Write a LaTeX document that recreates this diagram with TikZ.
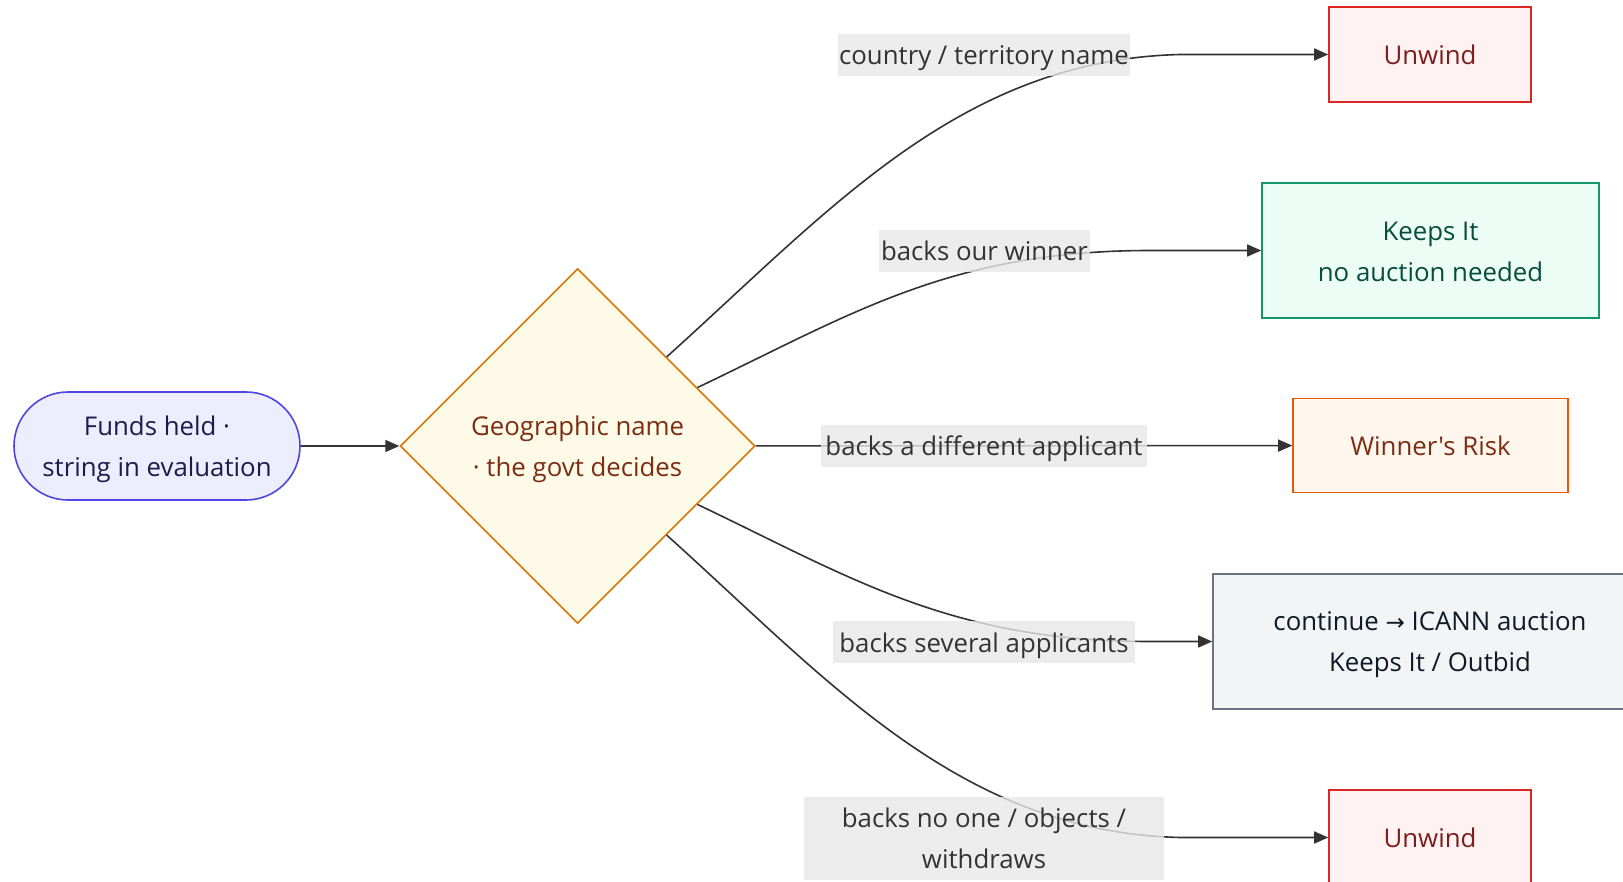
\documentclass[tikz,border=0pt]{standalone}
\usepackage{fontspec}
\newfontfamily\mainsans{Open Sans}
\newfontfamily\symfont{DejaVu Sans}
\usetikzlibrary{shapes.geometric,arrows.meta}
\definecolor{stadfill}{HTML}{ECEEFE}
\definecolor{stadline}{HTML}{4F46E5}
\definecolor{stadtext}{HTML}{1E1B4B}
\definecolor{diafill}{HTML}{FEFAE8}
\definecolor{dialine}{HTML}{D97706}
\definecolor{diatext}{HTML}{7C2D12}
\definecolor{redfill}{HTML}{FEF2F2}
\definecolor{redline}{HTML}{DC2626}
\definecolor{redtext}{HTML}{7F1D1D}
\definecolor{grnfill}{HTML}{ECFDF5}
\definecolor{grnline}{HTML}{13966C}
\definecolor{grntext}{HTML}{064E3B}
\definecolor{orgfill}{HTML}{FFF7ED}
\definecolor{orgline}{HTML}{EA580C}
\definecolor{orgtext}{HTML}{7C2D12}
\definecolor{gryfill}{HTML}{F3F4F6}
\definecolor{gryline}{HTML}{6B7280}
\definecolor{grytext}{HTML}{111827}
\definecolor{edgecol}{HTML}{333333}
\definecolor{lblfill}{HTML}{E8E8E8}
\begin{document}
\begin{tikzpicture}[x=1pt,y=-1pt,
  font=\mainsans\fontsize{25.8}{41}\selectfont,
  txt/.style={align=center, inner sep=0pt, yshift=-3pt},
  onetxt/.style={inner sep=0pt, text height=19pt, text depth=6pt, yshift=-3.5pt},
  box/.style={draw, line width=1.6pt, rectangle, inner sep=0pt},
  redbox/.style={box, fill=redfill, draw=redline, minimum width=202pt, minimum height=95pt},
  edge/.style={draw=edgecol, line width=1.6pt, -{Triangle[length=14pt,width=12pt]}},
  elabel/.style={fill=lblfill, fill opacity=0.8, inner sep=0pt, minimum height=42pt}]
\useasboundingbox (0,0) rectangle (1623,882);
\fill[white] (0,0) rectangle (1623,882);

\node[box, fill=stadfill, draw=stadline, rounded corners=54pt, minimum width=286pt, minimum height=108pt,
  label={[txt, text=stadtext]center:Funds held ·\\string in evaluation}] (start) at (157,446) {};
\node[diamond, aspect=1, draw=dialine, fill=diafill, line width=1.6pt, minimum size=355pt, inner sep=0pt,
  label={[txt, text=diatext]center:Geographic name\\· the govt decides}] (diam) at (577.6,446) {};

\node[redbox, label={[onetxt, text=redtext]center:Unwind}] (u1) at (1430,54.5) {};
\node[box, fill=grnfill, draw=grnline, minimum width=337pt, minimum height=135pt,
  label={[txt, yshift=1.5pt, text=grntext]center:Keeps It\\no auction needed}] (keep) at (1430.5,250.5) {};
\node[box, fill=orgfill, draw=orgline, minimum width=275pt, minimum height=94pt,
  label={[onetxt, text=orgtext]center:Winner's Risk}] (risk) at (1430.5,445.5) {};
\node[box, fill=gryfill, draw=gryline, minimum width=434pt, minimum height=135pt,
  label={[txt, text=grytext]center:continue {\symfont\fontsize{23}{41}\selectfont →} ICANN auction\\Keeps It / Outbid}] (cont) at (1430,641.5) {};
\node[redbox, label={[onetxt, text=redtext]center:Unwind}] (u2) at (1430,837.5) {};

\coordinate (c1) at (1180,54.5);
\coordinate (c2) at (1150,250.5);
\coordinate (c4) at (1150,641.5);
\coordinate (c5) at (1180,837.5);

\draw[edge] (start) -- (diam);
\draw[edge] (diam.north east) .. controls (830,210) and (960,60) .. (c1) -- (u1);
\draw[edge] (diam.26) .. controls (850,315) and (950,250.5) .. (c2) -- (keep);
\draw[edge] (diam) -- (risk);
\draw[edge] (diam.-26) .. controls (850,577) and (950,641.5) .. (c4) -- (cont);
\draw[edge] (diam.south east) .. controls (830,682) and (960,832) .. (c5) -- (u2);

\node[elabel, minimum width=292pt, label={[onetxt, text=edgecol]center:country / territory name}] (l1) at (984,55) {};
\node[elabel, minimum width=211pt, label={[onetxt, text=edgecol]center:backs our winner}] (l2) at (984.5,251) {};
\node[elabel, minimum width=326pt, label={[onetxt, text=edgecol]center:backs a different applicant}] (l3) at (984,446) {};
\node[elabel, minimum width=302pt, label={[onetxt, text=edgecol]center:backs several applicants}] (l4) at (984,642) {};
\node[elabel, minimum width=360pt, minimum height=83pt, label={[txt, yshift=3pt, text=edgecol]center:backs no one / objects /\\withdraws}] (l5) at (984,838.5) {};
\end{tikzpicture}
\end{document}
